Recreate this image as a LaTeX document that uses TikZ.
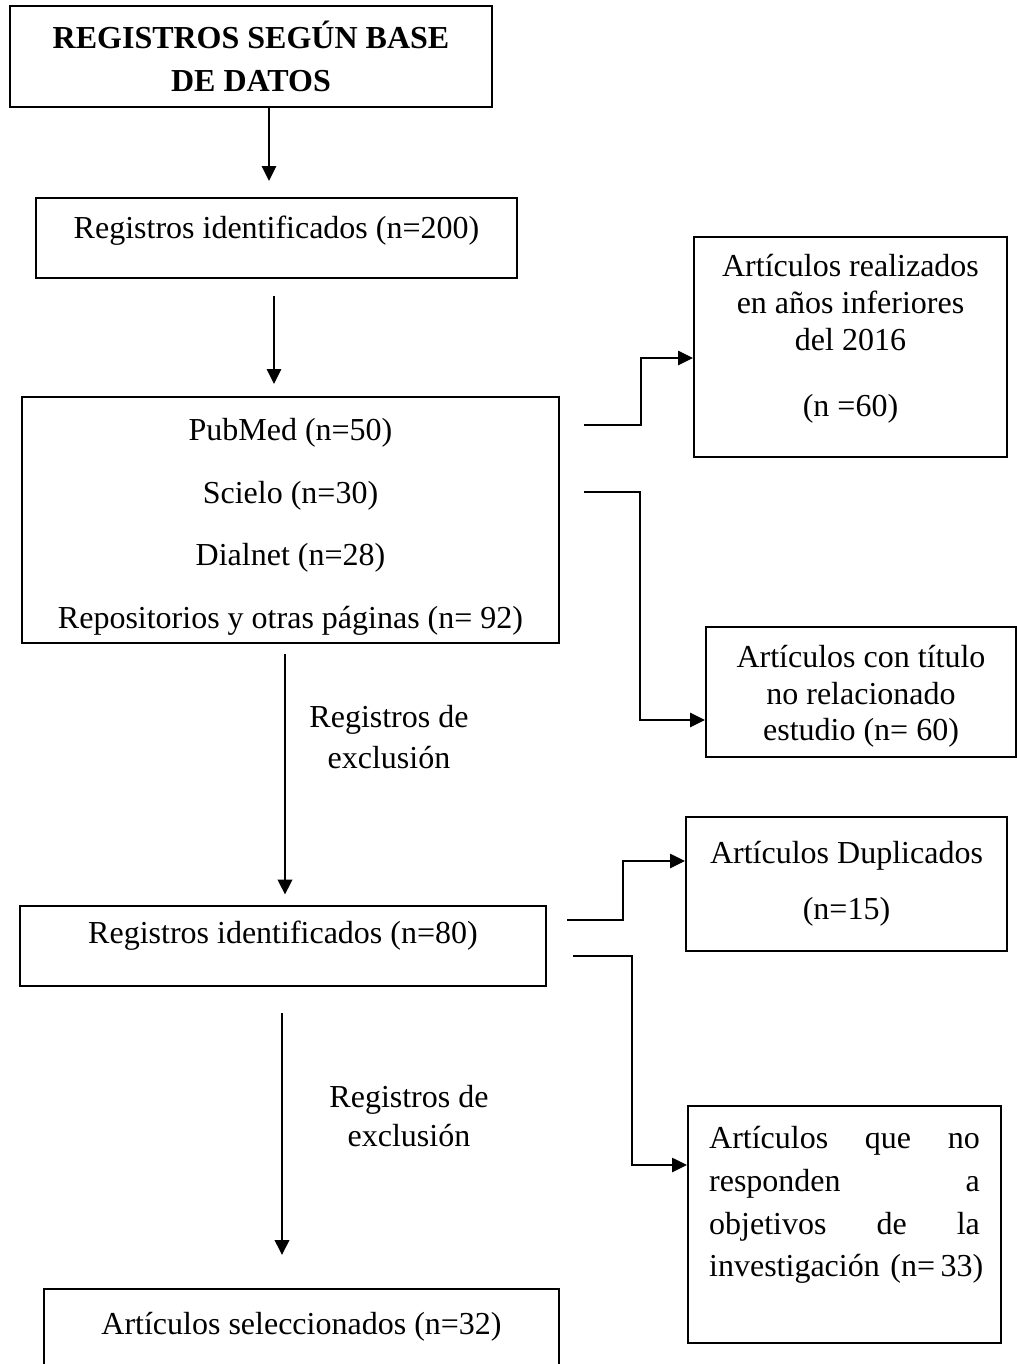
\documentclass[tikz,border=0pt]{standalone}
\usepackage{fontspec}
\setmainfont{Liberation Serif}
\usetikzlibrary{arrows.meta}

\begin{document}
\begin{tikzpicture}[x=0.375pt,y=-0.375pt,
  box/.style={draw,line width=0.75pt,inner sep=0pt,align=center,font=\fontsize{12}{14}\selectfont},
  thinarrow/.style={-{Triangle[length=5.6pt,width=5.4pt]},line width=0.5pt},
  thickarrow/.style={-{Triangle[length=5.6pt,width=5.4pt]},line width=0.9pt},
  elbow/.style={-{Triangle[length=5.6pt,width=5.4pt]},line width=0.45pt},
  note/.style={align=center,font=\fontsize{12}{15.7}\selectfont}]
  \useasboundingbox (0,0) rectangle (1017,1364);
  \clip (0,0) rectangle (1017,1364);

  % Main column
  \node[box,font=\bfseries\fontsize{12}{16.1}\selectfont,minimum width=180.75pt,minimum height=37.9pt] (title) at (251,56.5) {REGISTROS SEGÚN BASE\\DE DATOS};
  \node[box,minimum width=180.4pt,minimum height=30pt,text height=8pt,text depth=8pt] (found) at (276.5,238) {Registros identificados (n=200)};
  \node[box,font=\fontsize{12}{23.5}\selectfont,minimum width=201.4pt,minimum height=92.25pt] (bases) at (290.5,520) {\mbox{}\\[-10pt]PubMed (n=50)\\Scielo (n=30)\\Dialnet (n=28)\\Repositorios y otras páginas (n= 92)};
  \node[box,minimum width=197.25pt,minimum height=30pt,text height=8pt,text depth=9.8pt] (kept) at (283,945.5) {Registros identificados (n=80)};
  \node[box,anchor=north,minimum width=193.1pt,inner ysep=8.9pt,text height=8pt,text depth=8pt] (selected) at (301.5,1288) {Artículos seleccionados (n=32)};

  % Excluded records
  \node[box,font=\fontsize{12}{13.9}\selectfont,minimum width=117.4pt,minimum height=82.5pt] (older) at (850.5,347) {Artículos realizados\\en años inferiores\\del 2016\\[10.9pt](n =60)\\[-5pt]\mbox{}};
  \node[box,font=\fontsize{12}{13.7}\selectfont,minimum width=116.25pt,minimum height=48.75pt] (offtopic) at (861,692) {\mbox{}\\[-2.1pt]Artículos con título\\no relacionado\\estudio (n= 60)};
  \node[box,font=\fontsize{12}{21}\selectfont,minimum width=120.4pt,minimum height=50.25pt] (dupes) at (846.5,884) {Artículos Duplicados\\(n=15)};
  \node[box,font=\fontsize{12}{16}\selectfont,align=left,text width=101.5pt,minimum width=117.4pt,minimum height=88.9pt] (offgoal) at (844.5,1224.5) {Artículos \hfill que \hfill no\\responden \hfill a\\objetivos \hfill de \hfill la\\\mbox{investigación (n=\,33)}\\[1pt]\mbox{}};

  % Labels beside the arrows
  \node[note] (excl1) at (389,737) {Registros de\\exclusión};
  \node[note,font=\fontsize{12}{14.3}\selectfont] (excl2) at (409,1116) {Registros de\\exclusión};

  % Downward arrows
  \draw[thinarrow,shorten >=6pt] (title.south -| 269,0) -- (found.north -| 269,0);
  \draw[thinarrow,shorten <=6.4pt,shorten >=4.5pt] (found.south -| 274,0) -- (bases.north -| 274,0);
  \draw[thickarrow,shorten <=3.75pt,shorten >=3.75pt] (bases.south -| 285,0) -- (kept.north -| 285,0);
  \draw[thickarrow,shorten <=10.1pt,shorten >=12.4pt] (kept.south -| 282,0) -- (selected.north -| 282,0);

  % Side connectors
  \coordinate (toOlder) at (584,425);
  \coordinate (toOfftopic) at (584,492);
  \coordinate (toDupes) at (567,920);
  \coordinate (toOffgoal) at (573,956);
  \draw[elbow] (toOlder) -| (641,358) -- (older.west |- 0,358);
  \draw[elbow] (toOfftopic) -| (640,720) -- (offtopic.west |- 0,720);
  \draw[elbow] (toDupes) -| (623,861) -- (dupes.west |- 0,861);
  \draw[elbow] (toOffgoal) -| (632,1165) -- (offgoal.west |- 0,1165);
\end{tikzpicture}
\end{document}
